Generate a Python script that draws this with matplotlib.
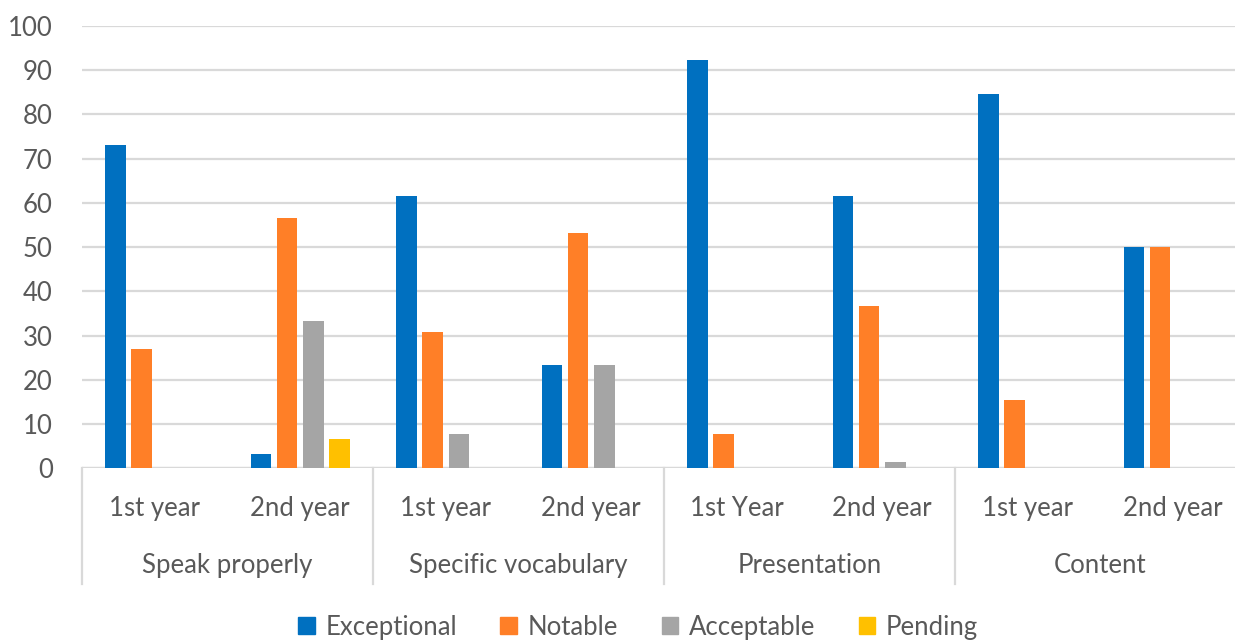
import numpy as np
import matplotlib.pyplot as plt
import matplotlib.transforms as mtransforms
from matplotlib.patches import Patch

plt.rcParams['font.family'] = ['Lato', 'DejaVu Sans']

CATEGORIES = ['Speak properly', 'Specific vocabulary', 'Presentation', 'Content']
YEARS = ['1st year', '2nd year', '1st year', '2nd year',
         '1st Year', '2nd year', '1st year', '2nd year']
SERIES = ['Exceptional', 'Notable', 'Acceptable', 'Pending']
COLORS = ['#0070C0', '#FF7F27', '#A5A5A5', '#FFC000']

exceptional = [73.1, 3.3, 61.5, 23.3, 92.3, 61.5, 84.6, 50.0]
notable = [26.9, 56.7, 30.8, 53.3, 7.7, 36.7, 15.4, 50.0]
acceptable = [0, 33.3, 7.7, 23.3, 0, 1.5, 0, 0]
pending = [0, 6.7, 0, 0, 0, 0, 0, 0]
values = [exceptional, notable, acceptable, pending]

TEXT = '#595959'
GRID = '#D9D9D9'
FS = 18.5

fig = plt.figure(figsize=(12.35, 6.4), dpi=100)
ax = fig.add_axes([0.0664, 0.268, 0.9425, 0.6916])

x = np.arange(len(YEARS))
step, width = 0.18, 0.142
for i, (vals, col) in enumerate(zip(values, COLORS)):
    ax.bar(x + (i - 1.5) * step, vals, width, color=col, zorder=3)

ax.set_xlim(-0.5, len(YEARS) - 0.5)
ax.set_ylim(0, 100)
ax.set_yticks(range(0, 101, 10))
ax.yaxis.grid(True, color=GRID, lw=1.6, zorder=0)
ax.tick_params(axis='y', length=0, pad=21, labelsize=FS, labelcolor=TEXT)
ax.set_xticks([])
for s in ax.spines.values():
    s.set_visible(False)
ax.axhline(0, color=GRID, lw=1.6, zorder=1)

# two-level category axis below the plot
tr = mtransforms.blended_transform_factory(ax.transData, ax.transAxes)
for b in np.arange(-0.5, len(YEARS), 2):
    ax.plot([b, b], [0, -0.26], color=GRID, lw=1.6, transform=tr, clip_on=False)
for xi, lab in zip(x, YEARS):
    ax.text(xi, -0.09, lab, transform=tr, ha='center', va='center',
            fontsize=FS, color=TEXT)
for j, cat in enumerate(CATEGORIES):
    ax.text(2 * j + 0.5, -0.219, cat, transform=tr, ha='center', va='center',
            fontsize=FS, color=TEXT)

handles = [Patch(color=c, label=s) for s, c in zip(SERIES, COLORS)]
fig.legend(handles=handles, loc='center', bbox_to_anchor=(0.5166, 0.02),
           ncol=4, frameon=False, fontsize=FS, labelcolor=TEXT,
           handlelength=0.65, handleheight=0.65, handletextpad=0.4,
           columnspacing=1.7)

fig.savefig('out.png', dpi=100)
